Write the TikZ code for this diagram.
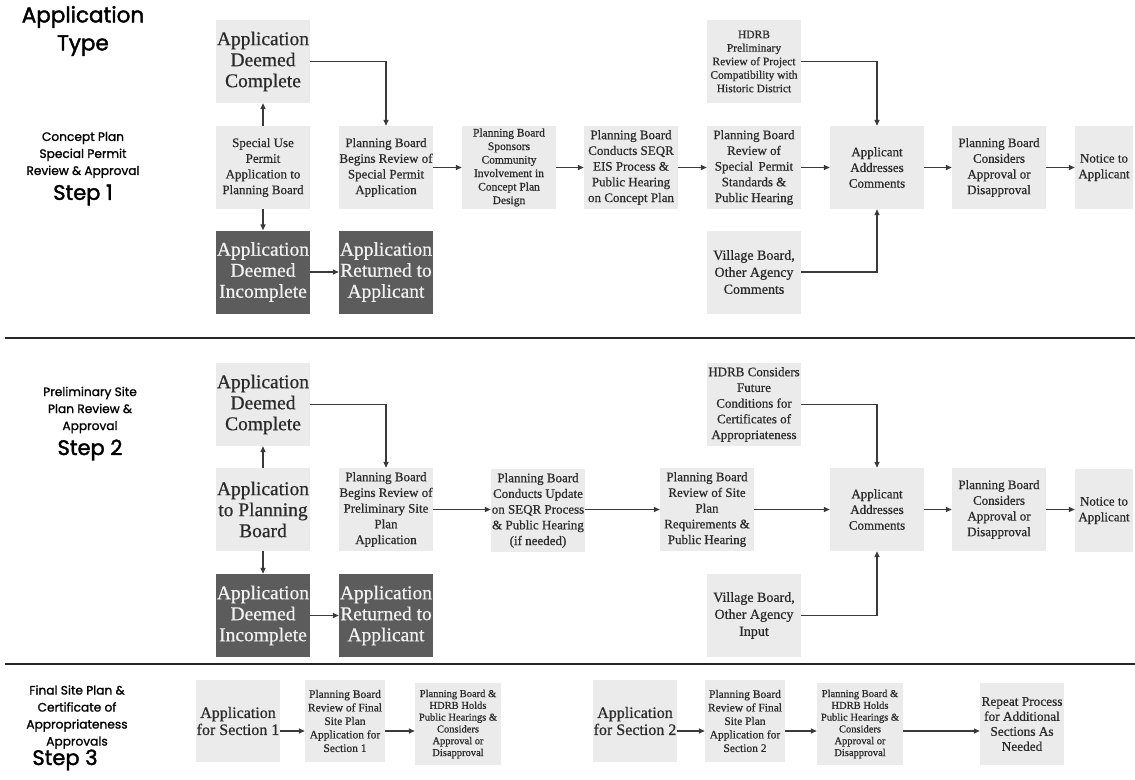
\documentclass[tikz,border=0pt]{standalone}
\usepackage{fontspec}
\setmainfont{Liberation Serif}[FakeBold=0.6]
\newfontfamily\hdrfont{Poppins}[FakeBold=1.2]
\newfontfamily\hdrfontB{Poppins}[FakeBold=1.8]
\usetikzlibrary{arrows.meta}
\definecolor{boxlight}{HTML}{EBEBEB}
\definecolor{boxdark}{HTML}{5C5C5C}
\definecolor{linegray}{HTML}{3A3A3A}
\definecolor{darktext}{HTML}{F2F2F2}
\definecolor{boxtext}{HTML}{2A2A2A}
\newcommand\fsXL{\fontsize{19.5}{21}\selectfont}
\newcommand\fsL{\fontsize{14}{17}\selectfont}
\newcommand\fsM{\fontsize{13}{15.7}\selectfont}
\newcommand\fsS{\fontsize{11.5}{13.5}\selectfont}
\newcommand\fsXS{\fontsize{10.5}{11.8}\selectfont}
\begin{document}
\begin{tikzpicture}[x=1pt,y=-1pt,
  lbox/.style={fill=boxlight,minimum width=94pt,minimum height=83pt,inner sep=0pt,align=center,text=boxtext},
  dbox/.style={fill=boxdark,minimum width=94pt,minimum height=83pt,inner sep=0pt,align=center,text=darktext,font=\fsXL},
  arr/.style={draw=linegray,line width=1.3pt,-{Triangle[length=6pt,width=5pt]}},
  sep/.style={draw=black!85,line width=1.3pt},
  lbl/.style={align=center,font=\hdrfont\fontsize{12.2}{17}\selectfont},
  steplbl/.style={align=center,font=\hdrfontB\fontsize{21}{22}\selectfont}]
\useasboundingbox (0,0) rectangle (1135,779);
\fill[white] (0,0) rectangle (1135,779);

% headers
\node[align=center,font=\hdrfontB\fontsize{21.5}{28}\selectfont] (ttl) at (83,31) {Application\\Type};
\node[lbl] (l1) at (83,155) {Concept Plan\\Special Permit\\Review \& Approval};
\node[steplbl] (st1) at (83,195) {Step 1};
\node[lbl] (l2) at (90,410) {Preliminary Site\\Plan Review \&\\Approval};
\node[steplbl] (st2) at (90,450) {Step 2};
\node[lbl] (l3) at (77,717) {Final Site Plan \&\\Certificate of\\Appropriateness\\Approvals};
\node[steplbl] (st3) at (65,760) {Step 3};

% separators
\coordinate (sa1) at (5,338); \coordinate (sa2) at (1135,338);
\coordinate (sb1) at (5,664); \coordinate (sb2) at (1135,664);
\draw[sep] (sa1) -- (sa2);
\draw[sep] (sb1) -- (sb2);

% Row 1
\node[lbox,font=\fsXL] (c1) at (263,61.5) {Application\\Deemed\\Complete};
\node[lbox,font=\fsM] (s1) at (263,167.5) {Special Use\\Permit\\Application to\\Planning Board};
\node[dbox] (i1) at (263,272) {Application\\Deemed\\Incomplete};
\node[dbox] (ret1) at (386,272) {Application\\Returned to\\Applicant};
\node[lbox,font=\fsM] (b1) at (386,167.5) {Planning Board\\Begins Review of\\Special Permit\\Application};
\node[lbox,font=\fsS] (sp1) at (509,167.5) {Planning Board\\Sponsors\\Community\\Involvement in\\Concept Plan\\Design};
\node[lbox,font=\fsM] (q1) at (631,167.5) {Planning Board\\Conducts SEQR\\EIS Process \&\\Public Hearing\\on Concept Plan};
\node[lbox,font=\fsS] (h1) at (754,61.5) {HDRB\\Preliminary\\Review of Project\\Compatibility with\\Historic District};
\node[lbox,font=\fsM] (r1) at (754,167.5) {Planning Board\\Review of\\Special\, Permit\\Standards \&\\Public Hearing};
\node[lbox,font=\fsL] (v1) at (754,272) {Village Board,\\Other Agency\\Comments};
\node[lbox,font=\fsM] (a1) at (877,167.5) {Applicant\\Addresses\\Comments};
\node[lbox,font=\fsM] (k1) at (999,167.5) {Planning Board\\Considers\\Approval or\\Disapproval};
\node[lbox,font=\fsM,minimum width=58pt] (n1) at (1104,167.5) {Notice to\\Applicant};

\draw[arr] (s1) -- (c1);
\draw[arr] (s1) -- (i1);
\draw[arr] (i1) -- (ret1);
\draw[arr] (c1.east) -| (b1.north);
\draw[arr] (b1) -- (sp1);
\draw[arr] (sp1) -- (q1);
\draw[arr] (q1) -- (r1);
\draw[arr] (r1) -- (a1);
\draw[arr] (h1.east) -| (a1.north);
\draw[arr] (v1.east) -| (a1.south);
\draw[arr] (a1) -- (k1);
\draw[arr] (k1) -- (n1);

% Row 2
\node[lbox,font=\fsXL] (c2) at (263,404.5) {Application\\Deemed\\Complete};
\node[lbox,font=\fsXL] (s2) at (263,509.5) {Application\\to Planning\\Board};
\node[dbox] (i2) at (263,615.5) {Application\\Deemed\\Incomplete};
\node[dbox] (ret2) at (386,615.5) {Application\\Returned to\\Applicant};
\node[lbox,font=\fsM] (b2) at (386,509.5) {Planning Board\\Begins Review of\\Preliminary Site\\Plan\\Application};
\node[lbox,font=\fsM] (q2) at (538,510.5) {Planning Board\\Conducts Update\\on SEQR Process\\\& Public Hearing\\(if needed)};
\node[lbox,font=\fsM] (r2) at (707,509.5) {Planning Board\\Review of Site\\Plan\\Requirements \&\\Public Hearing};
\node[lbox,font=\fsM] (h2) at (754,404.5) {HDRB Considers\\Future\\Conditions for\\Certificates of\\Appropriateness};
\node[lbox,font=\fsL] (v2) at (754,615.5) {Village Board,\\Other Agency\\Input};
\node[lbox,font=\fsM] (a2) at (877,509.5) {Applicant\\Addresses\\Comments};
\node[lbox,font=\fsM] (k2) at (999,509.5) {Planning Board\\Considers\\Approval or\\Disapproval};
\node[lbox,font=\fsM,minimum width=58pt] (n2) at (1104,510.5) {Notice to\\Applicant};

\draw[arr] (s2) -- (c2);
\draw[arr] (s2) -- (i2);
\draw[arr] (i2) -- (ret2);
\draw[arr] (c2.east) -| (b2.north);
\draw[arr] (b2) -- (q2.west |- b2);
\draw[arr] (q2.east |- b2) -- (r2);
\draw[arr] (r2) -- (a2);
\draw[arr] (h2.east) -| (a2.north);
\draw[arr] (v2.east) -| (a2.south);
\draw[arr] (a2) -- (k2);
\draw[arr] (k2) -- (n2.west |- k2);

% Row 3
\coordinate (r3) at (0,731);
\node[lbox,font=\fontsize{16}{17}\selectfont,minimum width=84pt,minimum height=82pt] (p1) at (238,721) {Application\\for Section 1};
\node[lbox,font=\fsS,minimum width=80pt,minimum height=82pt] (f1) at (345,721) {Planning Board\\Review of Final\\Site Plan\\Application for\\Section 1};
\node[lbox,font=\fsXS,minimum width=86pt,minimum height=82pt] (g1) at (458,724) {Planning Board \&\\HDRB Holds\\Public Hearings \&\\Considers\\Approval or\\Disapproval};
\node[lbox,font=\fontsize{16}{17}\selectfont,minimum width=84pt,minimum height=82pt] (p2) at (635,721) {Application\\for Section 2};
\node[lbox,font=\fsS,minimum width=80pt,minimum height=82pt] (f2) at (745,721) {Planning Board\\Review of Final\\Site Plan\\Application for\\Section 2};
\node[lbox,font=\fsXS,minimum width=86pt,minimum height=82pt] (g2) at (860,724) {Planning Board \&\\HDRB Holds\\Public Hearings \&\\Considers\\Approval or\\Disapproval};
\node[lbox,font=\fontsize{13.3}{15}\selectfont,minimum width=84pt,minimum height=82pt] (rep) at (1022,724) {Repeat Process\\for Additional\\Sections As\\Needed};

\draw[arr] (p1.east |- r3) -- (f1.west |- r3);
\draw[arr] (f1.east |- r3) -- (g1.west |- r3);
\draw[arr] (p2.east |- r3) -- (f2.west |- r3);
\draw[arr] (f2.east |- r3) -- (g2.west |- r3);
\draw[arr] (g2.east |- r3) -- (rep.west |- r3);
\end{tikzpicture}
\end{document}
